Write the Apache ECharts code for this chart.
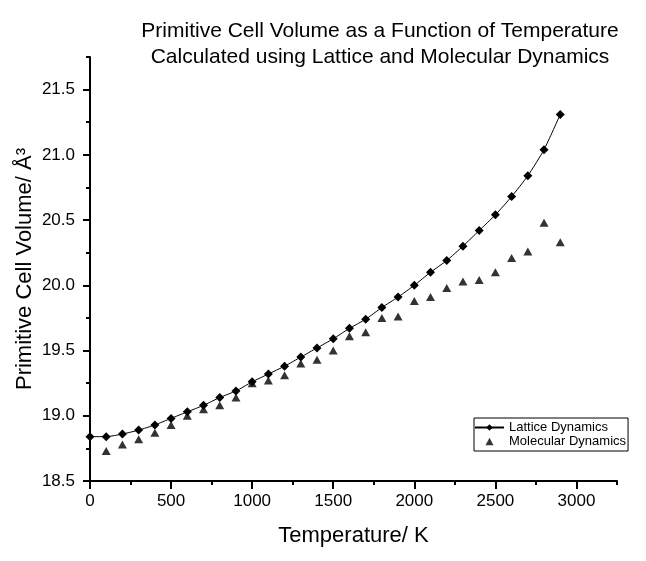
<!DOCTYPE html>
<html>
<head>
<meta charset="utf-8">
<script src="https://cdn.jsdelivr.net/npm/echarts@6/dist/echarts.min.js"></script>
<style>
  html, body { margin: 0; padding: 0; background: #fff; }
  #chart { width: 646px; height: 561px; }
</style>
</head>
<body>
<div id="chart"></div>
<script>
// temperatures (K)
var temps = [0, 100, 200, 300, 400, 500, 600, 700, 800, 900, 1000, 1100, 1200, 1300, 1400,
             1500, 1600, 1700, 1800, 1900, 2000, 2100, 2200, 2300, 2400, 2500, 2600, 2700, 2800, 2900];
// lattice dynamics volume (A^3), one per temperature
var latticeVol = [18.84, 18.84, 18.86, 18.89, 18.93, 18.98, 19.03, 19.08, 19.14, 19.19,
                  19.26, 19.32, 19.38, 19.45, 19.52, 19.59, 19.67, 19.74, 19.83, 19.91,
                  20.00, 20.10, 20.19, 20.30, 20.42, 20.54, 20.68, 20.84, 21.04, 21.31];
// molecular dynamics volume, no point at 0 K
var molecularVol = [null, 18.73, 18.78, 18.82, 18.87, 18.93, 19.00, 19.05, 19.08, 19.14,
                    19.25, 19.27, 19.31, 19.40, 19.43, 19.50, 19.61, 19.64, 19.75, 19.76,
                    19.88, 19.91, 19.98, 20.03, 20.04, 20.10, 20.21, 20.26, 20.48, 20.33];
var xMajor = [0, 500, 1000, 1500, 2000, 2500, 3000];
var yMajor = [18.5, 19.0, 19.5, 20.0, 20.5, 21.0, 21.5];

var font = 'Liberation Sans, Arial, sans-serif';

function pairs(xs, ys) {
    var out = [];
    for (var i = 0; i < xs.length; i++) {
        if (ys[i] != null) out.push([xs[i], ys[i]]);
    }
    return out;
}

var chart = echarts.init(document.getElementById('chart'));

var baseX = {
    type: 'value', min: 0, max: 3250, interval: 250, position: 'bottom',
    splitLine: {show: false}
};
var baseY = {
    type: 'value', min: 18.5, max: 21.75, interval: 0.25, position: 'left',
    splitLine: {show: false}
};

var option = {
    backgroundColor: '#fff',
    animation: false,
    title: {
        text: 'Primitive Cell Volume as a Function of Temperature\nCalculated using Lattice and Molecular Dynamics',
        left: 375, top: 13, textAlign: 'center',
        textStyle: {fontFamily: font, fontSize: 21, fontWeight: 'normal', color: '#000', lineHeight: 26}
    },
    legend: {
        orient: 'vertical',
        left: 474, top: 418,
        padding: [3, 2, 3, 0],
        itemWidth: 29, itemHeight: 8, itemGap: 1,
        borderColor: '#000', borderWidth: 1,
        backgroundColor: '#fff',
        textStyle: {fontFamily: font, fontSize: 13, color: '#000'},
        data: [
            {name: 'Lattice Dynamics'},
            // triangle centred in a wide box so it keeps its shape
            {name: 'Molecular Dynamics', icon: 'path://M0,4L0,4M29,4L29,4M14.5,0L18.5,7.5L10.5,7.5Z'}
        ]
    },
    grid: {left: 90, right: 29, top: 57, bottom: 80},
    xAxis: [
        Object.assign({}, baseX, {
            name: 'Temperature/ K', nameLocation: 'middle', nameGap: 44,
            nameMoveOverlap: false,
            nameTextStyle: {fontFamily: font, fontSize: 22, color: '#000'},
            axisLine: {lineStyle: {color: '#000', width: 2}},
            axisTick: {length: 4, lineStyle: {color: '#000', width: 2}},
            axisLabel: {
                margin: 12, fontFamily: font, fontSize: 17, color: '#000',
                customValues: xMajor,
                formatter: function (v) { return String(v); }
            }
        }),
        Object.assign({}, baseX, {
            axisLine: {show: false},
            axisTick: {length: 8, lineStyle: {color: '#000', width: 2}, customValues: xMajor},
            axisLabel: {show: false}
        })
    ],
    yAxis: [
        Object.assign({}, baseY, {
            name: 'Primitive Cell Volume/ Å³', nameLocation: 'middle', nameGap: 54,
            nameMoveOverlap: false,
            nameTextStyle: {fontFamily: font, fontSize: 22, color: '#000'},
            axisLine: {lineStyle: {color: '#000', width: 2}},
            axisTick: {length: 4, lineStyle: {color: '#000', width: 2}},
            axisLabel: {
                margin: 15, fontFamily: font, fontSize: 17, color: '#000',
                customValues: yMajor,
                formatter: function (v) { return v.toFixed(1); }
            }
        }),
        Object.assign({}, baseY, {
            axisLine: {show: false},
            axisTick: {length: 7, lineStyle: {color: '#000', width: 2}, customValues: yMajor},
            axisLabel: {show: false}
        })
    ],
    series: [
        {
            name: 'Lattice Dynamics',
            type: 'line',
            data: pairs(temps, latticeVol),
            symbol: 'diamond', symbolSize: 9,
            itemStyle: {color: '#000'},
            lineStyle: {color: '#000', width: 1},
            smooth: 0.2
        },
        {
            name: 'Molecular Dynamics',
            type: 'scatter',
            data: pairs(temps, molecularVol),
            symbol: 'triangle', symbolSize: [9, 8],
            itemStyle: {color: '#000'}
        }
    ]
};

chart.setOption(option);
</script>
</body>
</html>
